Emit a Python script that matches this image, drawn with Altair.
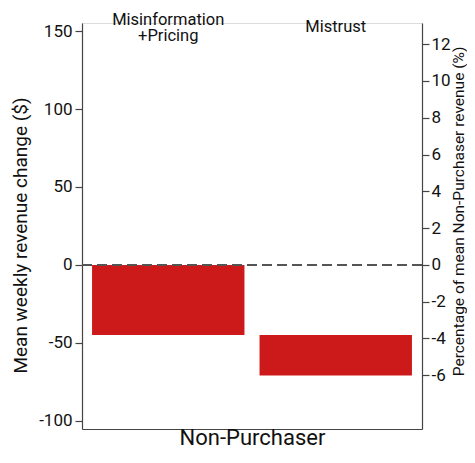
import altair as alt
import pandas as pd

# Data
categories = ["Misinformation +Pricing", "Mistrust"]
labels = ["Misinformation\n+Pricing", "Mistrust"]
bar_start = [0, -45]
bar_end = [-45, -71]
pct_start = [0, -3.8]
pct_end = [-3.8, -6.0]
left_ticks = [-100, -50, 0, 50, 100, 150]
right_ticks = [-6, -4, -2, 0, 2, 4, 6, 8, 10, 12]
left_domain = [-105.3, 155.2]
pct_ratio = 11.8  # dollars per percentage point

df = pd.DataFrame({
    "cat": categories,
    "label": labels,
    "start": bar_start,
    "end": bar_end,
    "pstart": pct_start,
    "pend": pct_end,
})

FONT = "Roboto"
AX = "#444444"
TXT = "#111111"
W, H = 340, 406

x_enc = alt.X(
    "cat:N",
    sort=categories,
    scale=alt.Scale(paddingInner=0.09, paddingOuter=0.06),
    axis=alt.Axis(
        title="Non-Purchaser", labels=False, ticks=False, domain=True,
        domainColor=AX, domainWidth=1.2, titleFontSize=22, titleFont=FONT,
        titleFontWeight="normal", titleColor=TXT,
        titleBaseline="alphabetic", titleY=15, titlePadding=0,
    ),
)

y_scale = alt.Scale(domain=left_domain, nice=False, zero=False)
y_axis = alt.Axis(
    orient="left", values=left_ticks, title="Mean weekly revenue change ($)",
    grid=False, domainColor=AX, domainWidth=1.2, tickColor=AX, tickSize=7,
    tickWidth=1.2, labelPadding=3, labelFontSize=17, labelFont=FONT,
    labelColor=TXT, labelExpr="'' + datum.value",
    titleFontSize=19, titleFont=FONT,
    titleFontWeight="normal", titleColor=TXT, titleAngle=270,
    titleBaseline="alphabetic", titleAlign="center", titleX=-56, titleY=212,
)

bars = alt.Chart(df).mark_bar(color="#CC1A1A").encode(
    x=x_enc,
    y=alt.Y("start:Q", scale=y_scale, axis=y_axis),
    y2="end:Q",
)

zero_df = pd.DataFrame({"z": [0]})
rule = alt.Chart(zero_df).mark_rule(
    color="#555555", strokeWidth=2, strokeDash=[10, 5]
).encode(y=alt.Y("z:Q", scale=y_scale, axis=y_axis))

text_two = alt.Chart(df).transform_filter(
    alt.datum.cat == categories[0]
).mark_text(
    font=FONT, fontSize=16.5, lineBreak="\n", lineHeight=16,
    baseline="alphabetic", align="center", color=TXT,
).encode(x=x_enc, y=alt.value(2), text="label:N")

text_one = alt.Chart(df).transform_filter(
    alt.datum.cat == categories[1]
).mark_text(
    font=FONT, fontSize=16.5, baseline="alphabetic", align="center", color=TXT,
).encode(x=x_enc, y=alt.value(9), text="label:N")

left = alt.layer(bars, rule, text_two, text_one)

pct = alt.Chart(df).mark_bar(opacity=0).encode(
    x=x_enc,
    y=alt.Y(
        "pstart:Q",
        scale=alt.Scale(domain=[left_domain[0] / pct_ratio, left_domain[1] / pct_ratio],
                        nice=False, zero=False),
        axis=alt.Axis(
            orient="right", values=right_ticks,
            title="Percentage of mean Non-Purchaser revenue (%)", grid=False,
            domainColor=AX, domainWidth=1.2, tickColor=AX, tickSize=7,
            tickWidth=1.2, labelPadding=2, labelFontSize=17, labelFont=FONT,
            labelColor=TXT, labelExpr="'' + datum.value",
            titleFontSize=15.5, titleFont=FONT,
            titleFontWeight="normal", titleColor=TXT, titleAngle=270,
            titleBaseline="alphabetic", titleAlign="center", titleX=41, titleY=188,
        ),
    ),
    y2="pend:Q",
)

chart = alt.layer(left, pct).resolve_scale(y="independent").properties(
    width=W, height=H,
    autosize=alt.AutoSizeParams(type="none"),
    padding={"left": 74, "top": 15, "right": 45, "bottom": 19},
).configure_view(stroke=None).configure(font=FONT)

chart.save("out.html", embed_options={"renderer": "svg", "actions": False})
